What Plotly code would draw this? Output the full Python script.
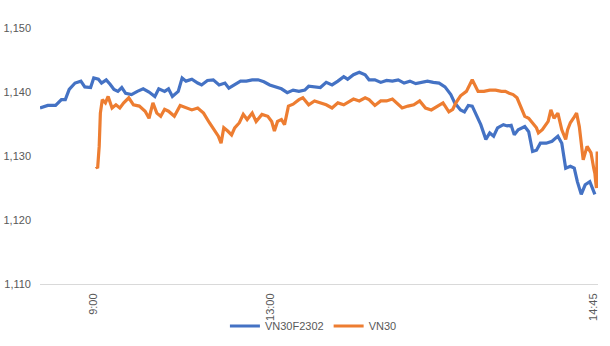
import plotly.graph_objects as go

# x positions are sample positions along the (category-like) intraday axis
fut_x = [0, 20, 40, 55, 65, 75, 90, 105, 115, 130, 138, 150, 158, 170, 180, 190, 200, 210, 220, 235,
         250, 265, 280, 295, 305, 320, 330, 340, 355, 365, 375, 390, 405, 415, 430, 445, 460, 475, 485, 500,
         515, 530, 545, 560, 575, 590, 605, 620, 635, 650, 665, 680, 690, 705, 720, 735, 750, 765, 780, 790,
         805, 820, 835, 845, 860, 875, 890, 905, 920, 935, 950, 965, 980, 995, 1010, 1025, 1040, 1055, 1065, 1080,
         1090, 1100, 1110, 1120, 1132, 1145, 1155, 1165, 1175, 1190, 1200, 1210, 1218, 1228, 1245, 1255, 1265, 1275, 1285, 1300,
         1315, 1330, 1340, 1350, 1362, 1372, 1380, 1390, 1400, 1412, 1418, 1425]
fut_y = [1137.5, 1137.9, 1137.9, 1138.8, 1138.8, 1140.4, 1141.4, 1141.7, 1140.8, 1140.7, 1142.2, 1142.0, 1141.4, 1141.9, 1141.2, 1140.4, 1140.1, 1140.7, 1139.8, 1139.6,
         1140.1, 1140.5, 1140.0, 1139.3, 1140.5, 1140.1, 1140.5, 1139.3, 1140.1, 1142.2, 1141.7, 1142.0, 1141.4, 1141.1, 1141.8, 1141.9, 1141.1, 1141.4, 1140.6, 1141.1,
         1141.7, 1141.7, 1141.9, 1141.9, 1141.6, 1141.1, 1140.8, 1140.5, 1139.9, 1140.3, 1140.1, 1140.3, 1140.9, 1140.8, 1140.7, 1141.5, 1141.1, 1141.7, 1142.4, 1142.0,
         1142.7, 1143.1, 1142.7, 1141.9, 1141.9, 1141.5, 1141.8, 1141.7, 1141.9, 1141.4, 1141.7, 1141.3, 1141.5, 1141.7, 1141.5, 1141.4, 1140.8, 1139.6, 1138.3, 1137.2,
         1136.9, 1137.9, 1137.8, 1136.5, 1134.9, 1132.6, 1133.6, 1133.1, 1134.4, 1134.9, 1134.7, 1134.8, 1133.3, 1134.1, 1134.6, 1133.8, 1130.7, 1130.9, 1132.0, 1132.0,
         1132.3, 1133.1, 1132.0, 1128.1, 1128.4, 1128.1, 1126.0, 1124.0, 1125.5, 1126.0, 1125.2, 1124.0]

idx_x = [144, 148, 152, 155, 160, 168, 175, 185, 195, 205, 215, 228, 240, 255, 270, 280, 290, 300, 310, 320,
         330, 345, 360, 375, 390, 405, 420, 435, 448, 458, 465, 472, 482, 492, 500, 512, 522, 532, 545, 555,
         570, 585, 595, 602, 610, 620, 628, 638, 650, 665, 675, 690, 705, 720, 735, 750, 765, 780, 795, 805,
         820, 835, 845, 860, 875, 890, 905, 915, 930, 945, 960, 975, 990, 1005, 1020, 1035, 1050, 1060, 1068, 1080,
         1095, 1110, 1125, 1140, 1155, 1170, 1185, 1195, 1205, 1215, 1225, 1235, 1245, 1255, 1265, 1275, 1280, 1290, 1305, 1312,
         1320, 1330, 1340, 1350, 1355, 1362, 1370, 1378, 1385, 1395, 1405, 1415, 1422, 1425, 1427,
         1429, 1431, 1433]
idx_y = [1128.4, 1128.1, 1131.5, 1136.7, 1138.8, 1138.3, 1139.3, 1137.5, 1138.0, 1137.5, 1138.3, 1139.1, 1138.0, 1137.8, 1137.0, 1135.9, 1138.3, 1136.7, 1136.2, 1137.3,
         1137.0, 1136.2, 1137.9, 1137.5, 1137.2, 1137.5, 1136.7, 1135.2, 1134.1, 1133.1, 1132.0, 1134.4, 1133.9, 1133.3, 1134.4, 1135.2, 1136.5, 1135.7, 1136.7, 1135.4,
         1136.5, 1136.2, 1135.4, 1133.9, 1135.4, 1135.7, 1134.9, 1137.8, 1138.1, 1138.8, 1139.1, 1138.0, 1138.6, 1138.3, 1138.0, 1137.5, 1138.3, 1138.0, 1138.6, 1138.9,
         1138.6, 1139.1, 1138.8, 1137.9, 1138.6, 1138.6, 1138.9, 1138.4, 1137.5, 1137.8, 1138.0, 1138.6, 1137.5, 1137.2, 1137.8, 1138.3, 1136.9, 1137.3, 1138.3, 1139.4,
         1140.1, 1141.9, 1140.1, 1140.1, 1140.3, 1140.3, 1140.1, 1140.1, 1139.8, 1139.6, 1139.1, 1137.5, 1136.2, 1135.9, 1135.2, 1134.4, 1133.6, 1134.1, 1135.4, 1137.2,
         1135.9, 1136.7, 1134.1, 1132.6, 1134.1, 1135.2, 1135.9, 1136.7, 1134.6, 1129.4, 1131.5, 1130.5, 1128.1, 1127.3, 1126.0,
         1125.0, 1130.7, 1125.3]

tick_vals = [138, 592, 1420]
tick_text = ["9:00", "13:00", "14:45"]
y_ticks = [1110, 1120, 1130, 1140, 1150]

fig = go.Figure()
fig.add_trace(go.Scatter(x=fut_x, y=fut_y, mode="lines", name="VN30F2302",
                         line=dict(color="#4472C4", width=3.2)))
fig.add_trace(go.Scatter(x=idx_x, y=idx_y, mode="lines", name="VN30",
                         line=dict(color="#ED7D31", width=3.2)))

fig.update_layout(
    width=610, height=346,
    margin=dict(l=40, r=12, t=28, b=62, autoexpand=False),
    paper_bgcolor="white", plot_bgcolor="white",
    font=dict(family="Liberation Sans, Arial, sans-serif", size=11, color="#595959"),
    showlegend=True,
    legend=dict(orientation="h", x=0.49, xanchor="center",
                yref="container", y=20 / 346, yanchor="middle",
                bgcolor="rgba(0,0,0,0)",
                font=dict(size=11, color="#595959"), itemwidth=30,
                tracegroupgap=0),
    xaxis=dict(range=[0, 1433], tickmode="array", tickvals=tick_vals, ticktext=tick_text,
               tickangle=-90, showgrid=False, zeroline=False, showline=True,
               linecolor="#d9d9d9", linewidth=1, ticks="", ticklabelstandoff=4,
               automargin=False),
    yaxis=dict(range=[1110, 1150], tickmode="array", tickvals=y_ticks, tickformat=",d",
               showgrid=False, zeroline=False, showline=False, ticks="",
               ticklabelstandoff=8, automargin=False),
)

fig.write_html("out.html")
